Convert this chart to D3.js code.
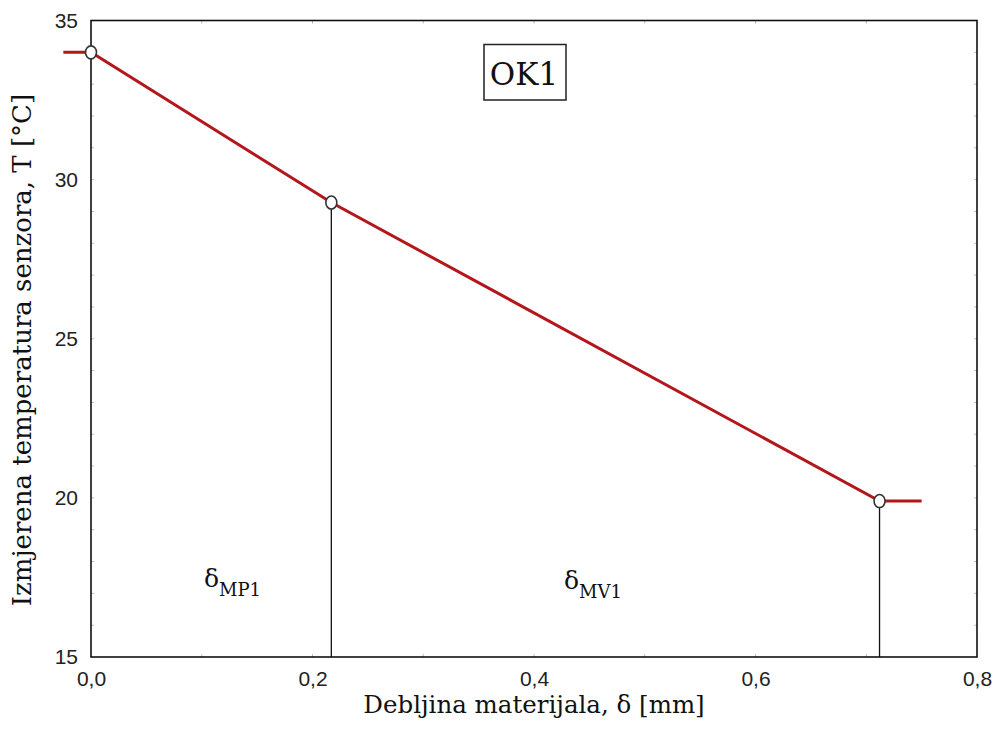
<!DOCTYPE html>
<html><head><meta charset="utf-8">
<script src="https://cdn.jsdelivr.net/npm/d3@7/dist/d3.min.js"></script>
<style>body{margin:0;background:#fff}svg{display:block}</style>
</head><body>
<svg id="c" width="996" height="745"></svg>
<script>
// Data
const xPts = [-0.025, 0, 0.217, 0.712, 0.75];
const yPts = [34.0, 34.0, 29.28, 19.9, 19.9];
const markerX = [0, 0.217, 0.712];
const markerY = [34.0, 29.28, 19.9];
const xTicks = [0, 0.2, 0.4, 0.6, 0.8];
const xTickLabels = ["0,0", "0,2", "0,4", "0,6", "0,8"];
const yTicks = [15, 20, 25, 30, 35];
const yTickLabels = ["15", "20", "25", "30", "35"];
const regionLabels = [{main: "δ", sub: "MP1", x: 0.102, y: 17.2}, {main: "δ", sub: "MV1", x: 0.427, y: 17.15}];

const svg = d3.select("#c");
const L = 91, R = 977, T = 20.5, B = 657;
const x = d3.scaleLinear().domain([0, 0.8]).range([L, R]);
const y = d3.scaleLinear().domain([15, 35]).range([B, T]);
const sans = "'Liberation Sans', Arial, sans-serif";
const serif = "'DejaVu Serif', serif";

// minor ticks (faint) on all sides
const g = svg.append("g");
const minorX = d3.range(1, 8).map(i => i / 10);
const minorY = d3.range(16, 35);
minorX.forEach(v => {
  g.append("line").attr("x1", x(v)).attr("x2", x(v)).attr("y1", B).attr("y2", B - 3).attr("stroke", "#bbb").attr("stroke-width", 1);
  g.append("line").attr("x1", x(v)).attr("x2", x(v)).attr("y1", T).attr("y2", T + 3).attr("stroke", "#bbb").attr("stroke-width", 1);
});
minorY.forEach(v => {
  g.append("line").attr("x1", L).attr("x2", L + 3).attr("y1", y(v)).attr("y2", y(v)).attr("stroke", "#bbb").attr("stroke-width", 1);
  g.append("line").attr("x1", R).attr("x2", R - 3).attr("y1", y(v)).attr("y2", y(v)).attr("stroke", "#bbb").attr("stroke-width", 1);
});

// frame
svg.append("rect").attr("x", L).attr("y", T).attr("width", R - L).attr("height", B - T)
  .attr("fill", "none").attr("stroke", "#111").attr("stroke-width", 1.6);

// tick labels via d3 axes
const xAxis = d3.axisBottom(x).tickValues(xTicks).tickFormat((d, i) => xTickLabels[i]).tickSize(0).tickPadding(14);
const xa = svg.append("g").attr("transform", `translate(0,${B})`).call(xAxis);
xa.select(".domain").remove();
xa.selectAll("text").attr("font-family", sans).attr("font-size", 21).attr("fill", "#222");

const yAxis = d3.axisLeft(y).tickValues(yTicks).tickFormat((d, i) => yTickLabels[i]).tickSize(0).tickPadding(13);
const ya = svg.append("g").attr("transform", `translate(${L},0)`).call(yAxis);
ya.select(".domain").remove();
ya.selectAll("text").attr("font-family", sans).attr("font-size", 21).attr("fill", "#222");

// vertical drop lines
markerX.slice(1).forEach((v, i) => {
  svg.append("line").attr("x1", x(v)).attr("x2", x(v)).attr("y1", y(markerY[i + 1])).attr("y2", B)
    .attr("stroke", "#111").attr("stroke-width", 1.3);
});

// red line
const pts = xPts.map((v, i) => [v, yPts[i]]);
svg.append("path").datum(pts)
  .attr("d", d3.line().x(d => x(d[0])).y(d => y(d[1])))
  .attr("fill", "none").attr("stroke", "#b3161b").attr("stroke-width", 3);

// markers
markerX.forEach((v, i) => {
  svg.append("ellipse").attr("cx", x(v)).attr("cy", y(markerY[i])).attr("rx", 5.5).attr("ry", 6.5)
    .attr("fill", "#fff").attr("stroke", "#333").attr("stroke-width", 1.6);
});

// OK1 box
svg.append("rect").attr("x", 484).attr("y", 44.5).attr("width", 82).attr("height", 55.5)
  .attr("fill", "#fff").attr("stroke", "#222").attr("stroke-width", 1.5);
svg.append("text").attr("x", 524).attr("y", 85).attr("text-anchor", "middle")
  .attr("font-family", serif).attr("font-size", 31).attr("fill", "#111").text("OK1");

// region labels
regionLabels.forEach(r => {
  const t = svg.append("text").attr("x", x(r.x)).attr("y", y(r.y))
    .attr("font-family", serif).attr("font-size", 25).attr("fill", "#111");
  t.append("tspan").text(r.main);
  t.append("tspan").attr("dy", 9).attr("font-size", 18).text(r.sub);
});

// axis titles
svg.append("text").attr("x", 534).attr("y", 713).attr("text-anchor", "middle")
  .attr("font-family", serif).attr("font-size", 24.5).attr("fill", "#111").text("Debljina materijala, δ [mm]");
svg.append("text").attr("transform", `translate(31,350) rotate(-90)`).attr("text-anchor", "middle")
  .attr("font-family", serif).attr("font-size", 26).attr("fill", "#111").text("Izmjerena temperatura senzora, T [°C]");
</script>
</body></html>
